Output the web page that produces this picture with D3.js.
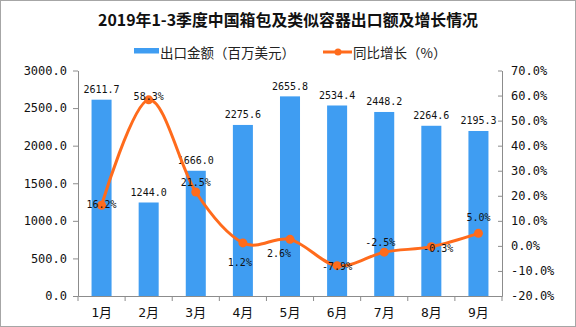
<!DOCTYPE html>
<html><head><meta charset="utf-8">
<script src="https://cdn.jsdelivr.net/npm/d3@7"></script>
<style>
html,body{margin:0;padding:0;background:#fff;}
svg{display:block;}
</style></head>
<body>
<svg id="chart" width="576" height="327"></svg>
<script>
const title = "2019年1-3季度中国箱包及类似容器出口额及增长情况";
const months = ["1月","2月","3月","4月","5月","6月","7月","8月","9月"];
const exportValues = [2611.7,1244.0,1666.0,2275.6,2655.8,2534.4,2448.2,2264.6,2195.3];
const growthValues = [16.2,58.3,21.5,1.2,2.6,-7.9,-2.5,-0.3,5.0];
const leftTicks = [0,500,1000,1500,2000,2500,3000];
const rightTicks = [-20,-10,0,10,20,30,40,50,60,70];
const seriesNames = ["出口金额（百万美元）","同比增长（%）"];
// label nudges for growth labels (layout only)
const growthLabelDx = [0,0,0,-3,-11,0,-4,7,0];
const growthLabelDy = [-1,-3,-10,20,14,1,-10,2,-16];

const barColor = "#3F9DF2", lineColor = "#FF6B1C", axisColor = "#8c8c8c";
const numFont = "'DejaVu Sans Mono','Noto Sans CJK SC',monospace";
const cjkFont = "'Noto Sans CJK SC','DejaVu Sans',sans-serif";

const svg = d3.select("#chart");
svg.append("rect").attr("x",0.5).attr("y",0.5).attr("width",575).attr("height",326)
  .attr("fill","#fff").attr("stroke","#a6a6a6");

const L = 78, R = 502, T = 70.5, B = 296;
const x = d3.scaleBand().domain(months).range([L,R]).padding(0);
const xb = d3.scaleBand().domain(months).range([L,R]).paddingInner(0.575).paddingOuter(0.2875);
const yL = d3.scaleLinear().domain([0,3000]).range([B,T]);
const yR = d3.scaleLinear().domain([-20,70]).range([B,T]);

// title
svg.append("text").attr("x",288).attr("y",26).attr("text-anchor","middle")
  .attr("font-family",cjkFont).attr("font-weight","bold").attr("font-size",16)
  .attr("textLength",380).attr("lengthAdjust","spacingAndGlyphs")
  .attr("fill","#111").text(title);

// legend
const lg = svg.append("g");
lg.append("rect").attr("x",134).attr("y",48).attr("width",25).attr("height",5.5).attr("fill",barColor);
lg.append("text").attr("x",160).attr("y",52).attr("dominant-baseline","central")
  .attr("font-family",cjkFont).attr("font-size",13.5).attr("fill","#222").text(seriesNames[0]);
lg.append("line").attr("x1",323).attr("x2",352).attr("y1",52).attr("y2",52)
  .attr("stroke",lineColor).attr("stroke-width",3);
lg.append("circle").attr("cx",338).attr("cy",52).attr("r",3.5).attr("fill",lineColor);
lg.append("text").attr("x",353).attr("y",52).attr("dominant-baseline","central")
  .attr("font-family",cjkFont).attr("font-size",13.5).attr("fill","#222").text(seriesNames[1]);

// bars
svg.append("g").selectAll("rect").data(exportValues).join("rect")
  .attr("x",(d,i)=>xb(months[i])).attr("width",xb.bandwidth())
  .attr("y",d=>yL(d)).attr("height",d=>B-yL(d)).attr("fill",barColor);

// axes
const gl = svg.append("g").attr("transform",`translate(${L},0)`)
  .call(d3.axisLeft(yL).tickValues(leftTicks).tickFormat(d=>d.toFixed(1)).tickSizeInner(5).tickSizeOuter(0).tickPadding(6));
const gr = svg.append("g").attr("transform",`translate(${R},0)`)
  .call(d3.axisRight(yR).tickValues(rightTicks).tickFormat(d=>d.toFixed(1)+"%").tickSizeInner(-4).tickSizeOuter(0).tickPadding(9));
[gl,gr].forEach(g=>{
  g.select(".domain").attr("stroke",axisColor);
  g.selectAll(".tick line").attr("stroke",axisColor);
  g.selectAll(".tick text").attr("font-family",numFont).attr("font-size",12).attr("fill","#111");
});
const gx = svg.append("g").attr("transform",`translate(0,${B})`)
  .call(d3.axisBottom(x).tickSize(0).tickPadding(12));
gx.select(".domain").attr("stroke",axisColor);
gx.selectAll(".tick text").attr("font-family",numFont).attr("font-size",13).attr("fill","#111");
// boundary ticks
const bounds = months.map(m=>x(m)).concat([R]);
svg.append("g").selectAll("line").data(bounds).join("line")
  .attr("x1",d=>d).attr("x2",d=>d).attr("y1",B).attr("y2",B+5).attr("stroke",axisColor);

// bar labels
svg.append("g").selectAll("text").data(exportValues).join("text")
  .attr("x",(d,i)=>x(months[i])+x.bandwidth()/2).attr("y",d=>yL(d)-6.5)
  .attr("text-anchor","middle").attr("font-family",numFont).attr("font-size",10).attr("fill","#111")
  .text(d=>d.toFixed(1));

// line
const pts = growthValues.map((v,i)=>[x(months[i])+x.bandwidth()/2, yR(v)]);
svg.append("path").attr("d",d3.line().curve(d3.curveCardinal.tension(0))(pts))
  .attr("fill","none").attr("stroke",lineColor).attr("stroke-width",3);
svg.append("g").selectAll("circle").data(pts).join("circle")
  .attr("cx",d=>d[0]).attr("cy",d=>d[1]).attr("r",4.5).attr("fill",lineColor);

// growth labels
svg.append("g").selectAll("text").data(growthValues).join("text")
  .attr("x",(d,i)=>pts[i][0]+growthLabelDx[i]).attr("y",(d,i)=>pts[i][1]+growthLabelDy[i])
  .attr("dominant-baseline","central").attr("text-anchor","middle")
  .attr("font-family",numFont).attr("font-size",10).attr("fill","#111")
  .text(d=>d.toFixed(1)+"%");
</script>
</body></html>
